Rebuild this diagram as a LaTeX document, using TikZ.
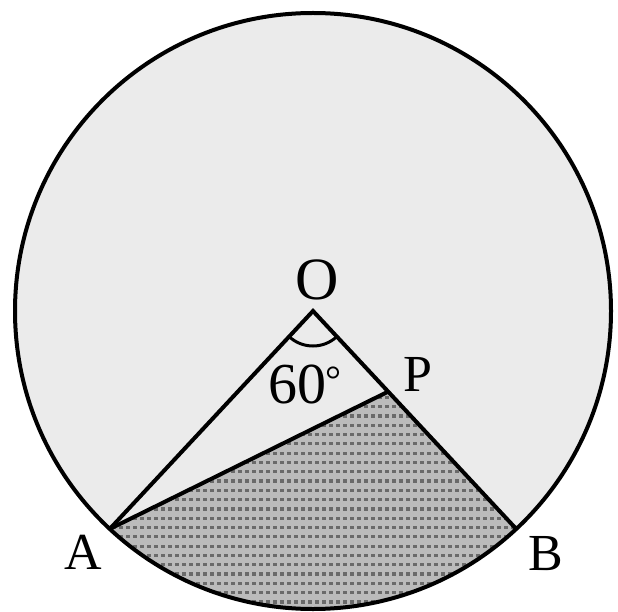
\documentclass[tikz,border=0pt]{standalone}
\usepackage{fontspec}
\setmainfont{Liberation Serif}
\definecolor{fillgray}{HTML}{EBEBEB}
\definecolor{shadebg}{HTML}{BBBBBB}
\definecolor{dotcol}{HTML}{6A6A6A}
\begin{document}
\begin{tikzpicture}[x=1pt,y=1pt,line width=4pt,
  lab/.style={font=\fontsize{52}{60}\selectfont, inner sep=0pt},
  outline/.style={draw=black, line width=4pt}]
\useasboundingbox (0,0) rectangle (618,-612);
\coordinate (O) at (313,-311);
\coordinate (A) at (109.8,-528.9);
\coordinate (B) at (516.2,-528.9);
\coordinate (P) at (388.2,-391.6);
\coordinate (arcA) at (289.1,-336.6);
% circle fill
\fill[fillgray] (O) circle (298);
% shaded region
\begin{scope}
  \clip (A) -- (P) -- (B) arc[start angle=313,end angle=227,radius=298] -- cycle;
  \fill[shadebg] (0,0) rectangle (618,-612);
  \foreach \y in {388,397.3,...,612}
    \draw[dotcol, line width=3.2pt, dash pattern=on 3.5pt off 3.5pt] (0,-\y) -- (618,-\y);
\end{scope}
% outlines
\draw[outline] (O) circle (298);
\draw[outline] (A) -- (O) -- (B);
\draw[outline] (A) -- (P);
\draw[outline, line width=3pt] (arcA) arc[start angle=227,end angle=313,radius=35];
% labels
\node[lab, font=\fontsize{60}{66}\selectfont] (Ol) at (317,-280) {O};
\node[lab, font=\fontsize{58}{64}\selectfont] (ang) at (305,-384) {60\kern-1pt\raisebox{10pt}{\fontsize{40}{44}\selectfont °}};
\node[lab] (Pl) at (418,-374) {P};
\node[lab] (Al) at (83,-552) {A};
\node[lab] (Bl) at (546,-554) {B};
\end{tikzpicture}
\end{document}
